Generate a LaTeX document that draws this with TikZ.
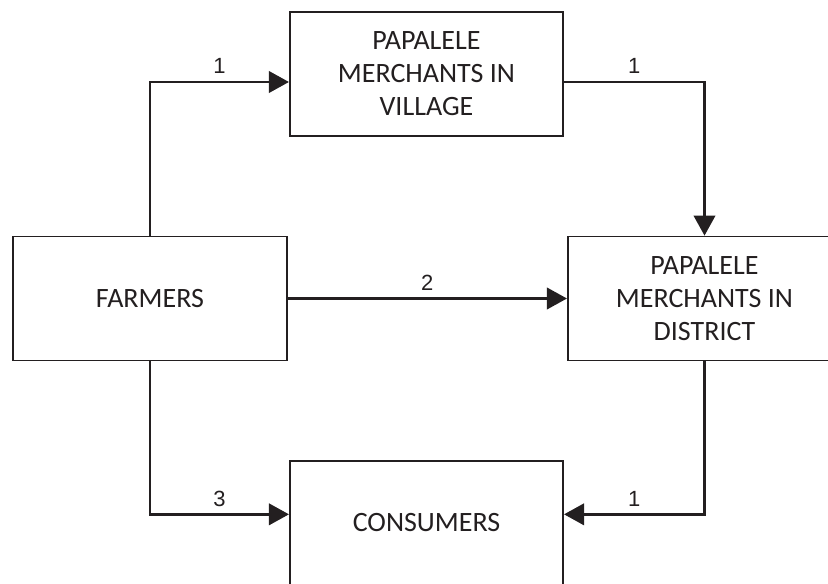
\documentclass[tikz,border=0pt]{standalone}
\usepackage{fontspec}
\usepackage{tikz}
\usetikzlibrary{arrows.meta, positioning}
\newfontfamily\boxfont{Carlito}
\newfontfamily\numfont{Liberation Sans}
\definecolor{inkdark}{RGB}{35,31,32}

\begin{document}
\begin{tikzpicture}[x=0.75pt, y=-0.75pt,
    chainbox/.style={draw=inkdark, line width=1.3pt, minimum width=205pt, minimum height=93pt,
        align=center, text=inkdark, font=\boxfont\fontsize{21}{24.75}\selectfont},
    flow/.style={draw=inkdark, line width=2pt, -{Triangle[length=15pt, width=16pt]}},
    lbl/.style={text=inkdark, inner sep=0pt, font=\numfont\fontsize{16.5}{20}\selectfont}]
    \useasboundingbox (0,0) rectangle (828,584);

    % Boxes of the marketing chain
    \node[chainbox] (farmers) at (150,298.5) {FARMERS};
    \node[chainbox] (village) at (426.5,74) {PAPALELE\\MERCHANTS IN\\VILLAGE};
    \node[chainbox] (district) at (704.5,298.5) {PAPALELE\\MERCHANTS IN\\DISTRICT};
    \node[chainbox] (consumers) at (426.5,523) {CONSUMERS};

    % Channels
    \draw[flow] (farmers.north) |- ([yshift=-6pt]village.west)
        node[lbl, pos=0.75, above=5pt] (c1a) {1};
    \draw[flow] ([yshift=-6pt]village.east) -| (district.north)
        node[lbl, pos=0.25, above=5pt] (c1b) {1};
    \draw[flow] (farmers.east) -- (district.west)
        node[lbl, midway, above=5pt] (c2) {2};
    \draw[flow] (farmers.south) |- ([yshift=6.5pt]consumers.west)
        node[lbl, pos=0.75, above=5pt] (c3) {3};
    \draw[flow] (district.south) |- ([yshift=6.5pt]consumers.east)
        node[lbl, pos=0.75, above=5pt] (c1c) {1};
\end{tikzpicture}
\end{document}
